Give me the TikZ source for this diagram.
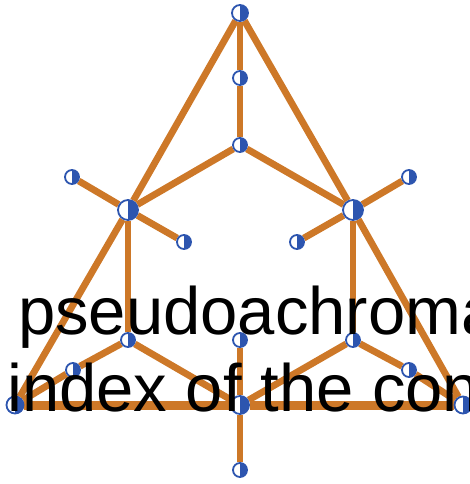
\documentclass[tikz,border=0pt]{standalone}
\usepackage{fontspec}
\setmainfont{Liberation Sans}
\usetikzlibrary{backgrounds}
\definecolor{edgeor}{RGB}{205,120,40}
\definecolor{vblue}{RGB}{45,85,175}
\tikzset{
  vtx/.style={circle, draw=vblue, line width=1.8pt, fill=white, inner sep=0pt, minimum size=#1,
    path picture={\fill[vblue] (path picture bounding box.north) rectangle (path picture bounding box.south east);}},
  vtx/.default=14pt,
  edge/.style={draw=edgeor, line width=6.8pt},
  lbl/.style={anchor=base west, inner sep=0pt, font=\fontsize{67}{77}\selectfont}
}
\begin{document}
\begin{tikzpicture}[x=1pt,y=-1pt]
\useasboundingbox (0,0) rectangle (470,484);
\clip (0,0) rectangle (470,484);
\node[vtx=16pt] (t) at (240,13) {};
\node[vtx] (m1) at (240,78) {};
\node[vtx] (m2) at (240,145) {};
\node[vtx=20pt] (lh) at (128,210) {};
\node[vtx=20pt] (rh) at (353,210) {};
\node[vtx] (lo) at (72,177) {};
\node[vtx] (ro) at (409,177) {};
\node[vtx] (li) at (184,242) {};
\node[vtx] (ri) at (297,242) {};
\node[vtx] (ld) at (128,340) {};
\node[vtx] (rd) at (353,340) {};
\node[vtx] (md) at (240,340) {};
\node[vtx] (ls) at (73,370) {};
\node[vtx] (rs) at (409,370) {};
\node[vtx=17pt] (bl) at (15,405) {};
\node[vtx=18pt] (bm) at (240,405) {};
\node[vtx=17pt] (br) at (463,405) {};
\node[vtx] (bb) at (240,470) {};
\begin{pgfonlayer}{background}
\draw[edge] (t) -- (lh) -- (bl);
\draw[edge] (t) -- (rh) -- (br);
\draw[edge] (t) -- (m1) -- (m2);
\draw[edge] (m2) -- (lh);
\draw[edge] (m2) -- (rh);
\draw[edge] (lh) -- (lo);
\draw[edge] (lh) -- (li);
\draw[edge] (rh) -- (ro);
\draw[edge] (rh) -- (ri);
\draw[edge] (lh) -- (ld);
\draw[edge] (rh) -- (rd);
\draw[edge] (ld) -- (ls) -- (bl);
\draw[edge] (rd) -- (rs) -- (br);
\draw[edge] (ld) -- (bm);
\draw[edge] (rd) -- (bm);
\draw[edge] (md) -- (bm) -- (bb);
\draw[edge, line width=9pt] (bl) -- (bm) -- (br);
\end{pgfonlayer}
\node[lbl] (l1) at (18,334) {pseudoachromatic};
\node[lbl] (l2) at (7,411) {index of the con};
\end{tikzpicture}
\end{document}
